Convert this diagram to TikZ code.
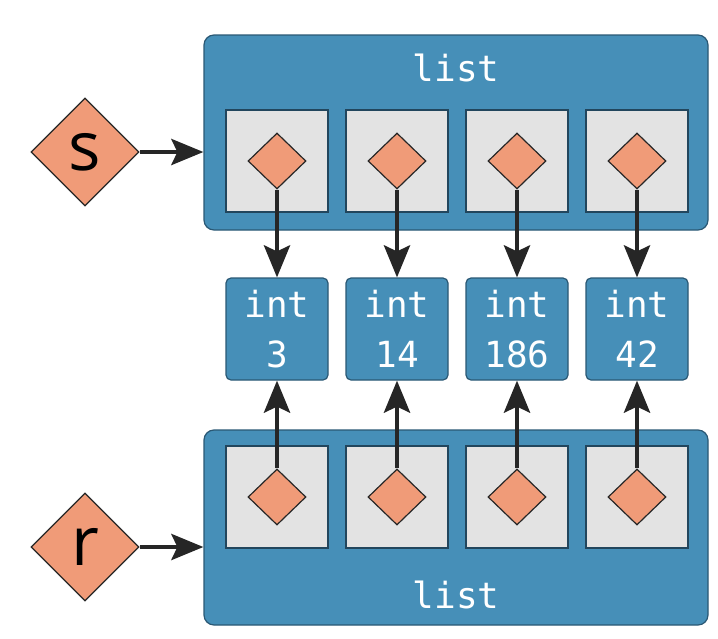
\documentclass[tikz,border=0pt]{standalone}
\usepackage{fontspec}
\setmonofont{DejaVu Sans Mono}
\newfontfamily\varfont{Open Sans}
\usetikzlibrary{shapes.geometric, arrows.meta, positioning}

\definecolor{listblue}{HTML}{468FB8}
\definecolor{edgeblue}{HTML}{2A5874}
\definecolor{slotgray}{HTML}{E3E3E3}
\definecolor{ptrorange}{HTML}{F09B78}
\definecolor{inkdark}{HTML}{262626}

\begin{document}
\begin{tikzpicture}[x=1pt, y=-1pt,
list/.style={rectangle, rounded corners=10pt, fill=listblue, draw=edgeblue, line width=1.2pt,
minimum width=504pt, minimum height=195pt},
list-label/.style={text=white, font=\ttfamily\fontsize{36}{40}\selectfont},
slot/.style={rectangle, fill=slotgray, draw=edgeblue!80!black, line width=1.2pt,
minimum size=102pt, node distance=120pt},
ptr/.style={diamond, fill=ptrorange, draw=inkdark, line width=1.2pt, inner sep=0pt,
minimum width=58pt, minimum height=56pt},
var/.style={ptr, minimum width=108pt, minimum height=108pt,
font=\varfont\fontsize{68}{68}\selectfont},
int/.style={rectangle, rounded corners=5pt, fill=listblue, draw=edgeblue, line width=1.2pt,
minimum size=102pt, inner sep=0pt, text=white, align=center, node distance=120pt,
font=\ttfamily\fontsize{36}{50}\selectfont},
line/.style={draw=inkdark, line width=4.5pt, -{Stealth[length=32pt, width=26pt, inset=6pt]}}
]
\useasboundingbox (0,0) rectangle (718,638);

% upper list
\node [list] (l-top) at (456,132.5) {};
\node [list-label] at (456,68) {list};
\node [slot] (t1) at (277,161) {};
\node [slot, right of=t1] (t2) {};
\node [slot, right of=t2] (t3) {};
\node [slot, right of=t3] (t4) {};
\node [ptr] (tp1) at (t1) {};
\node [ptr] (tp2) at (t2) {};
\node [ptr] (tp3) at (t3) {};
\node [ptr] (tp4) at (t4) {};

% ints
\node [int] (i1) at (277,329) {int\\3};
\node [int, right of=i1] (i2) {int\\14};
\node [int, right of=i2] (i3) {int\\186};
\node [int, right of=i3] (i4) {int\\42};

% lower list
\node [list] (l-bot) at (456,527.5) {};
\node [list-label] at (456,595) {list};
\node [slot] (b1) at (277,497) {};
\node [slot, right of=b1] (b2) {};
\node [slot, right of=b2] (b3) {};
\node [slot, right of=b3] (b4) {};
\node [ptr] (bp1) at (b1) {};
\node [ptr] (bp2) at (b2) {};
\node [ptr] (bp3) at (b3) {};
\node [ptr] (bp4) at (b4) {};

% names
\node [var] (s) at (85,152) {s};
\node [var] (r) at (85,547) {r};

\path [line] (s.east) -- (s.east -| l-top.west);
\path [line] (r.east) -- (r.east -| l-bot.west);

\path [line] (tp1.south) -- (i1.north);
\path [line] (tp2.south) -- (i2.north);
\path [line] (tp3.south) -- (i3.north);
\path [line] (tp4.south) -- (i4.north);

\path [line] (bp1.north) -- (i1.south);
\path [line] (bp2.north) -- (i2.south);
\path [line] (bp3.north) -- (i3.south);
\path [line] (bp4.north) -- (i4.south);

\end{tikzpicture}
\end{document}
